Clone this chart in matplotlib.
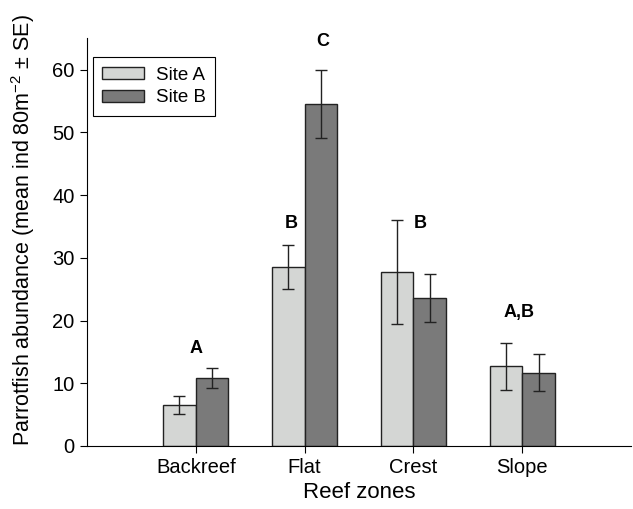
import matplotlib
matplotlib.use("Agg")
import matplotlib.pyplot as plt
import numpy as np

plt.rcParams['font.family'] = ['Liberation Sans', 'DejaVu Sans']
plt.rcParams['mathtext.fontset'] = 'custom'
plt.rcParams['mathtext.rm'] = 'Liberation Sans'

categories = ["Backreef", "Flat", "Crest", "Slope"]
site_a = [6.5, 28.5, 27.7, 12.7]
site_a_se = [1.4, 3.5, 8.3, 3.7]
site_b = [10.8, 54.5, 23.6, 11.7]
site_b_se = [1.6, 5.4, 3.8, 2.9]
letters = ["A", "B", "C", "B", "A,B"]
letter_x = [0.0, 0.88, 1.17, 2.06, 2.97]
letter_y = [15.6, 35.4, 64.4, 35.4, 21.3]

fig = plt.figure(figsize=(6.33, 5.09), dpi=100)
ax = fig.add_axes([0.1374, 0.1238, 0.8596, 0.8012])

x = np.arange(len(categories))
w = 0.3
ax.bar(x - w/2, site_a, w, color="#d4d6d4", edgecolor="#222222", linewidth=1.0, label="Site A")
ax.bar(x + w/2, site_b, w, color="#7a7a7a", edgecolor="#222222", linewidth=1.0, label="Site B")
ax.errorbar(x - w/2, site_a, yerr=site_a_se, fmt="none", ecolor="#222222", elinewidth=1.0, capsize=4, capthick=1.0)
ax.errorbar(x + w/2, site_b, yerr=site_b_se, fmt="none", ecolor="#222222", elinewidth=1.0, capsize=4, capthick=1.0)

for t, lx, ly in zip(letters, letter_x, letter_y):
    ax.text(lx, ly, t, ha="center", va="center", fontsize=13, fontweight="bold")

ax.set_xlim(-1, 4)
ax.set_ylim(0, 65)
ax.set_xticks(x)
ax.set_xticklabels(categories, fontsize=14.5)
ax.set_yticks([0, 10, 20, 30, 40, 50, 60])
ax.tick_params(axis="y", labelsize=14.5, direction="out", length=5, pad=4)
ax.tick_params(axis="x", direction="out", length=5)
ax.spines["top"].set_visible(False)
ax.spines["right"].set_visible(False)
ax.set_xlabel("Reef zones", fontsize=16)
ax.set_ylabel("Parrotfish abundance (mean ind 80m$^{\\mathrm{-2}}$ ± SE)", fontsize=15.5)
ax.yaxis.set_label_coords(-0.092, 0.53)

leg = ax.legend(loc="upper left", bbox_to_anchor=(0.011, 0.953), fontsize=13.5, frameon=True,
                fancybox=False, edgecolor="black", framealpha=1, handlelength=2.24, handleheight=0.6,
                handletextpad=0.6, borderaxespad=0, labelspacing=0.3, borderpad=0.5)
leg.get_frame().set_linewidth(0.8)

fig.savefig("out.png", dpi=100)
